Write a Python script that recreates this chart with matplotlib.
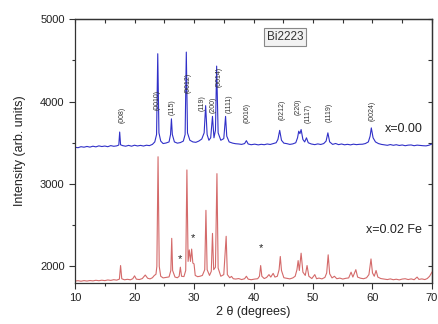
import numpy as np
import matplotlib
matplotlib.use('Agg')
import matplotlib.pyplot as plt

plt.rcParams['font.family'] = ['Liberation Sans', 'DejaVu Sans']

# x = 0.00 pattern (2theta, intensity)
blue = [
    (10.0, 3445), (10.5, 3440), (11.0, 3452), (11.5, 3446), (12.0, 3455), (12.5, 3447),
    (13.0, 3458), (13.5, 3450), (14.0, 3462), (14.5, 3454), (15.0, 3460), (15.5, 3452),
    (16.0, 3465), (16.5, 3457), (17.0, 3462), (17.35, 3472), (17.5, 3630), (17.65, 3475),
    (18.0, 3465), (18.5, 3458), (19.0, 3468), (19.5, 3458), (20.0, 3470), (20.5, 3461),
    (21.0, 3468), (21.5, 3460), (22.0, 3470), (22.5, 3465), (23.0, 3480), (23.4, 3510),
    (23.7, 3600), (23.9, 4580), (24.1, 3620), (24.4, 3520), (24.8, 3490), (25.3, 3497),
    (25.8, 3510), (26.05, 3600), (26.2, 3790), (26.35, 3600), (26.7, 3510), (27.2, 3495),
    (27.7, 3502), (28.2, 3520), (28.5, 3600), (28.7, 4600), (28.9, 3620), (29.3, 3530),
    (29.8, 3510), (30.3, 3505), (30.8, 3520), (31.3, 3545), (31.7, 3620), (31.95, 3950),
    (32.2, 3600), (32.5, 3530), (32.8, 3560), (33.1, 3820), (33.35, 3560), (33.6, 3650),
    (33.8, 4430), (34.05, 3620), (34.5, 3530), (35.0, 3550), (35.3, 3820), (35.5, 3580),
    (35.9, 3510), (36.5, 3495), (37.0, 3488), (37.5, 3485), (38.0, 3480), (38.5, 3490),
    (38.8, 3525), (39.1, 3485), (39.6, 3476), (40.2, 3483), (40.8, 3474), (41.3, 3481),
    (41.8, 3476), (42.3, 3485), (42.8, 3479), (43.3, 3490), (43.8, 3500), (44.1, 3540),
    (44.4, 3650), (44.7, 3530), (45.1, 3495), (45.6, 3489), (46.1, 3480), (46.6, 3486),
    (47.1, 3500), (47.4, 3560), (47.6, 3640), (47.8, 3610), (48.0, 3660), (48.3, 3540),
    (48.6, 3510), (48.9, 3560), (49.2, 3500), (49.7, 3485), (50.3, 3477), (50.8, 3486),
    (51.3, 3479), (51.8, 3490), (52.2, 3520), (52.5, 3620), (52.8, 3510), (53.3, 3480),
    (53.8, 3491), (54.3, 3477), (54.8, 3485), (55.3, 3475), (55.8, 3481), (56.3, 3474),
    (56.8, 3483), (57.3, 3477), (57.8, 3481), (58.3, 3482), (58.8, 3490), (59.3, 3510),
    (59.6, 3580), (59.8, 3680), (60.1, 3560), (60.5, 3510), (61.0, 3490), (61.5, 3480),
    (62.0, 3474), (62.5, 3469), (63.0, 3478), (63.5, 3469), (64.0, 3476), (64.5, 3467),
    (65.0, 3473), (65.5, 3464), (66.0, 3471), (66.5, 3473), (67.0, 3464), (67.5, 3471),
    (68.0, 3467), (68.5, 3464), (69.0, 3462), (69.5, 3470), (70.0, 3485),
]

# x = 0.02 Fe pattern
red = [
    (10.0, 1822), (10.5, 1826), (11.0, 1820), (11.5, 1827), (12.0, 1822), (12.5, 1828),
    (13.0, 1824), (13.5, 1831), (14.0, 1826), (14.5, 1832), (15.0, 1827), (15.5, 1835),
    (16.0, 1830), (16.5, 1838), (17.0, 1833), (17.45, 1845), (17.65, 2010), (17.85, 1850),
    (18.3, 1837), (18.8, 1843), (19.3, 1837), (19.7, 1850), (20.0, 1885), (20.3, 1845),
    (20.8, 1840), (21.3, 1852), (21.8, 1895), (22.2, 1856), (22.6, 1848), (23.0, 1862),
    (23.3, 1888), (23.6, 1905), (23.75, 2000), (23.95, 3330), (24.15, 2000), (24.4, 1880),
    (24.8, 1860), (25.3, 1866), (25.8, 1872), (26.1, 1950), (26.25, 2340), (26.4, 1950),
    (26.8, 1870), (27.2, 1862), (27.5, 1880), (27.7, 1990), (27.9, 1880), (28.3, 1876),
    (28.6, 1950), (28.8, 3170), (29.0, 2060), (29.2, 2200), (29.4, 2060), (29.6, 2210),
    (29.8, 2040), (30.0, 2030), (30.2, 1890), (30.6, 1875), (31.0, 1880), (31.4, 1890),
    (31.8, 1960), (32.0, 2680), (32.2, 1960), (32.6, 1890), (32.9, 1940), (33.1, 2400),
    (33.3, 1960), (33.6, 1990), (33.85, 3125), (34.05, 1980), (34.5, 1880), (35.0, 1900),
    (35.4, 2365), (35.6, 1900), (36.0, 1862), (36.3, 1878), (36.6, 1850), (37.0, 1846),
    (37.5, 1852), (38.0, 1840), (38.5, 1850), (38.8, 1880), (39.1, 1845), (39.6, 1838),
    (40.2, 1846), (40.7, 1850), (41.0, 1880), (41.2, 2010), (41.4, 1880), (41.8, 1852),
    (42.2, 1866), (42.6, 1900), (42.9, 1870), (43.3, 1915), (43.6, 1870), (44.0, 1880),
    (44.3, 1960), (44.5, 2120), (44.7, 1950), (45.1, 1862), (45.6, 1855), (46.1, 1848),
    (46.6, 1860), (47.0, 1880), (47.3, 1960), (47.5, 2070), (47.7, 1950), (48.0, 2160),
    (48.3, 1930), (48.7, 1890), (49.0, 2010), (49.3, 1880), (49.8, 1852), (50.3, 1900),
    (50.6, 1850), (51.0, 1858), (51.5, 1848), (52.0, 1866), (52.3, 1920), (52.55, 2140),
    (52.8, 1910), (53.2, 1860), (53.6, 1880), (54.0, 1850), (54.5, 1858), (55.0, 1846),
    (55.5, 1855), (56.0, 1860), (56.4, 1930), (56.7, 1870), (57.2, 1960), (57.5, 1870),
    (58.0, 1856), (58.5, 1850), (59.0, 1862), (59.4, 1900), (59.75, 2090), (60.0, 1920),
    (60.3, 1880), (60.6, 1950), (60.9, 1870), (61.4, 1852), (62.0, 1846), (62.5, 1840),
    (63.0, 1848), (63.5, 1838), (64.0, 1844), (64.5, 1836), (65.0, 1846), (65.5, 1850),
    (66.0, 1840), (66.5, 1848), (67.0, 1838), (67.5, 1870), (67.8, 1842), (68.3, 1848),
    (68.8, 1840), (69.2, 1852), (69.6, 1880), (70.0, 1930),
]

# reflection labels (text, x, y)
hkl = [
    ('(008)', 17.85, 3833),
    ('(0010)', 23.73, 4016),
    ('(115)', 26.25, 3931),
    ('(0012)', 29.04, 4222),
    ('(119)', 31.3, 3979),
    ('(200)', 33.14, 3955),
    ('(0014)', 34.25, 4295),
    ('(1111)', 35.88, 3979),
    ('(0016)', 38.96, 3858),
    ('(0212)', 44.74, 3894),
    ('(220)', 47.43, 3931),
    ('(1117)', 49.2, 3858),
    ('(1119)', 52.7, 3870),
    ('(0024)', 59.97, 3882),
]

# impurity marks
star_x = [27.6, 29.8, 41.2]
star_y = [2085, 2345, 2225]

bx, by = zip(*blue)
rx, ry = zip(*red)

fig = plt.figure(figsize=(4.39, 3.24), dpi=100)
ax = fig.add_subplot(111)
fig.subplots_adjust(left=0.171, right=0.984, top=0.941, bottom=0.127)

ax.plot(bx, by, color='#3030c8', lw=0.8)
ax.plot(rx, ry, color='#d46a6a', lw=0.8)

for t, x, y in hkl:
    ax.text(x, y, t, rotation=90, ha='center', va='center', fontsize=5, color='#333333')

for x, y in zip(star_x, star_y):
    ax.text(x, y, '*', ha='center', va='center', fontsize=8, color='#222222')

ax.text(45.3, 4781, 'Bi2223', ha='center', va='center', fontsize=8.5, color='#333333',
        bbox=dict(boxstyle='square,pad=0.25', fc='#f2f2f2', ec='#888888', lw=0.8))
ax.text(62.1, 3663, 'x=0.00', ha='left', va='center', fontsize=9, color='#222222')
ax.text(58.9, 2436, 'x=0.02 Fe', ha='left', va='center', fontsize=9, color='#222222')

ax.set_xlim(10, 70)
ax.set_ylim(1800, 5000)
ax.set_xticks([10, 20, 30, 40, 50, 60, 70])
ax.set_xticks([15, 25, 35, 45, 55, 65], minor=True)
ax.set_yticks([2000, 3000, 4000, 5000])
ax.set_yticks([2500, 3500, 4500], minor=True)
ax.tick_params(which='both', direction='out', labelsize=8, color='#333333', labelcolor='#222222')
ax.tick_params(which='major', length=4, width=0.8)
ax.tick_params(which='minor', length=2.5, width=0.8)

top = ax.secondary_xaxis('top')
top.set_xticks([10, 15, 20, 25, 30, 35, 40, 45, 50, 55, 60, 65, 70])
top.tick_params(direction='in', length=3, width=0.8, labeltop=False, color='#333333')
right = ax.secondary_yaxis('right')
right.set_yticks([2000, 2500, 3000, 3500, 4000, 4500, 5000])
right.tick_params(direction='in', length=3, width=0.8, labelright=False, color='#333333')

for s in list(ax.spines.values()) + [top.spines['top'], right.spines['right']]:
    s.set_color('#333333')
    s.set_linewidth(0.9)

ax.set_xlabel('2 θ (degrees)', fontsize=9, labelpad=2, color='#222222')
ax.set_ylabel('Intensity (arb. units)', fontsize=9, labelpad=10, color='#222222')

fig.savefig('out.png', dpi=100)
